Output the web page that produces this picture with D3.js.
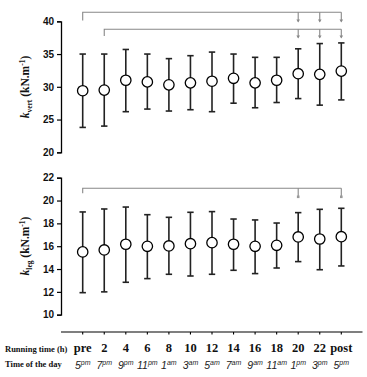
<!DOCTYPE html>
<html><head><meta charset="utf-8">
<script src="https://cdn.jsdelivr.net/npm/d3@7"></script>
<style>body{margin:0;background:#fff}svg{display:block}</style>
</head><body>
<svg id="c" width="367" height="377"></svg>
<script>
const categories = ["pre","2","4","6","8","10","12","14","16","18","20","22","post"];
const timeHour = ["5","7","9","11","1","3","5","7","9","11","1","3","5"];
const timeSuffix = ["pm","pm","pm","pm","am","am","am","am","am","am","pm","pm","pm"];
const vertMean  = [29.4,29.5,31.0,30.75,30.3,30.6,30.85,31.3,30.6,31.0,32.0,31.9,32.4];
const vertLower = [23.8,24.0,26.2,26.6,26.3,26.5,26.2,27.5,26.8,27.6,28.2,27.2,28.0];
const vertUpper = [35.0,35.0,35.7,35.0,34.3,34.75,35.3,35.0,34.5,34.5,35.8,36.6,36.7];
const legMean  = [15.5,15.67,16.17,15.99,16.02,16.22,16.31,16.17,15.99,16.08,16.81,16.63,16.83];
const legLower = [11.93,12.0,12.84,13.16,13.54,13.39,13.54,13.89,13.6,14.09,14.65,13.94,14.27];
const legUpper = [19.0,19.26,19.43,18.76,18.53,18.97,19.03,18.38,18.3,18.03,18.94,19.23,19.32];
const vertTicks = [20,25,30,35,40];
const legTicks = [10,12,14,16,18,20,22];

const svg = d3.select("#c");
const x = d3.scalePoint().domain(categories).range([82.7, 341.3]);
const yV = d3.scaleLinear().domain([20,40]).range([152.3, 21.3]);
const yL = d3.scaleLinear().domain([10,22]).range([314.7, 177.7]);
const axisX = 61;

function panel(y, ticks, mean, lo, hi, sub, cy){
  const g = svg.append("g").attr("transform", `translate(${axisX},0)`);
  g.call(d3.axisLeft(y).tickValues(ticks).tickSize(4).tickPadding(3));
  g.select(".domain").attr("stroke","#000").attr("stroke-width",1.3);
  g.selectAll(".tick line").attr("stroke","#000").attr("stroke-width",1.2);
  g.selectAll(".tick text").attr("font-family","Liberation Sans, Arial, sans-serif")
    .attr("font-weight","bold").attr("font-size",10).attr("fill","#111");
  // error bars
  const eb = svg.append("g");
  categories.forEach((c,i)=>{
    const cx = x(c);
    eb.append("line").attr("x1",cx).attr("x2",cx).attr("y1",y(lo[i])).attr("y2",y(hi[i]))
      .attr("stroke","#222").attr("stroke-width",1.6);
    [lo[i],hi[i]].forEach(v=>eb.append("line").attr("x1",cx-3.2).attr("x2",cx+3.2)
      .attr("y1",y(v)).attr("y2",y(v)).attr("stroke","#222").attr("stroke-width",1.6));
  });
  svg.append("g").selectAll("circle").data(mean).join("circle")
    .attr("cx",(d,i)=>x(categories[i])).attr("cy",d=>y(d)).attr("r",5.2)
    .attr("fill","#fff").attr("stroke","#000").attr("stroke-width",1.3);
  // y label
  const t = svg.append("text").attr("transform",`translate(29,${cy}) rotate(-90)`)
    .attr("text-anchor","middle").attr("font-family","Liberation Serif, Times New Roman, serif")
    .attr("font-weight","bold").attr("font-size",11.5).attr("fill","#111");
  t.append("tspan").attr("font-style","italic").text("k");
  t.append("tspan").attr("font-size",7.5).attr("dy",2.5).text(sub);
  t.append("tspan").attr("dy",-2.5).text(" (kN.m");
  t.append("tspan").attr("font-size",7.5).attr("dy",-4).text("-1");
  t.append("tspan").attr("dy",4).text(")");
}
panel(yV, vertTicks, vertMean, vertLower, vertUpper, "vert", 87);
panel(yL, legTicks, legMean, legLower, legUpper, "leg", 246);

// significance brackets
const br = svg.append("g").attr("stroke","#888").attr("stroke-width",1.1).attr("fill","none");
function bracket(fromCat, yLine, yDrop, targets, yArrow, marker){
  br.append("path").attr("d",`M${x(fromCat)},${yDrop}V${yLine}H${x("post")}`);
  targets.forEach(c=>{
    const cx = x(c);
    br.append("line").attr("x1",cx).attr("x2",cx).attr("y1",yLine).attr("y2",yArrow);
    if(marker==="arrow"){
      svg.append("path").attr("d",`M${cx-1.8},${yArrow-2}L${cx+1.8},${yArrow-2}L${cx},${yArrow+1}Z`).attr("fill","#888");
    } else {
      svg.append("rect").attr("x",cx-1.3).attr("y",yArrow-1).attr("width",2.6).attr("height",2.6).attr("fill","#999");
    }
  });
}
bracket("pre", 12.3, 20.5, ["20","22","post"], 21.5, "arrow");
bracket("2", 29.3, 36, ["20","22","post"], 37.5, "arrow");
bracket("pre", 188.3, 193.3, ["20","post"], 196.5, "sq");

// bottom x axis
const xa = svg.append("g").attr("transform","translate(0,332)");
xa.append("line").attr("x1",axisX).attr("x2",362.5).attr("y1",0).attr("y2",0).attr("stroke","#000").attr("stroke-width",1.2);
categories.forEach(c=>xa.append("line").attr("x1",x(c)).attr("x2",x(c)).attr("y1",0).attr("y2",2.5).attr("stroke","#000").attr("stroke-width",1.1));

const serif = "Liberation Serif, Times New Roman, serif";
svg.append("text").attr("x",5).attr("y",352).attr("font-family",serif).attr("font-weight","bold")
  .attr("font-size",8.5).attr("fill","#111").text("Running time (h)");
svg.append("text").attr("x",5).attr("y",367).attr("font-family",serif).attr("font-weight","bold")
  .attr("font-size",8.5).attr("fill","#111").text("Time of the day");
svg.append("g").selectAll("text").data(categories).join("text")
  .attr("x",d=>x(d)).attr("y",352).attr("text-anchor","middle").attr("font-family",serif)
  .attr("font-weight","bold").attr("font-size",12.5).attr("fill","#111").text(d=>d);
const tg = svg.append("g").selectAll("text").data(categories).join("text")
  .attr("x",d=>x(d)).attr("y",369).attr("text-anchor","middle")
  .attr("font-family","Liberation Sans, Arial, sans-serif").attr("font-style","italic")
  .attr("font-size",10.5).attr("fill","#222");
tg.append("tspan").text((d,i)=>timeHour[i]);
tg.append("tspan").attr("font-size",7).attr("dy",-4).text((d,i)=>timeSuffix[i]);
</script>
</body></html>
